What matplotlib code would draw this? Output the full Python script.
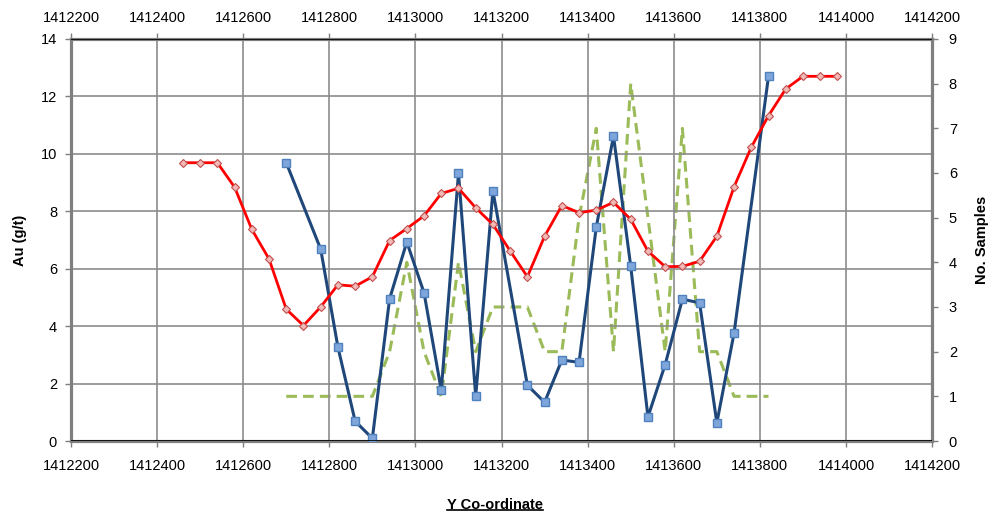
import numpy as np
import matplotlib
matplotlib.use("Agg")
import matplotlib.pyplot as plt
from matplotlib.lines import Line2D
from matplotlib.ticker import FormatStrFormatter

plt.rcParams['font.family'] = ['Liberation Sans', 'DejaVu Sans']

# red series (smoothed Au), every 40 m
red_x = np.arange(1412460, 1413981, 40)
red_au = [9.69, 9.69, 9.69, 8.84, 7.37, 6.34, 4.59, 4.02, 4.67, 5.44,
          5.39, 5.72, 6.98, 7.40, 7.84, 8.62, 8.80, 8.12, 7.54, 6.62,
          5.72, 7.13, 8.20, 7.95, 8.04, 8.31, 7.72, 6.61, 6.07, 6.08,
          6.26, 7.13, 8.85, 10.23, 11.33, 12.26, 12.70, 12.70, 12.70]

# blue series (Au grade) and sample counts
blue_x = [1412700, 1412780, 1412820, 1412860, 1412900, 1412940, 1412980,
          1413020, 1413060, 1413100, 1413140, 1413180, 1413260, 1413300,
          1413340, 1413380, 1413420, 1413460, 1413500, 1413540, 1413580,
          1413620, 1413660, 1413700, 1413740, 1413820]
blue_au = [9.69, 6.68, 3.27, 0.69, 0.09, 4.95, 6.93, 5.16, 1.77, 9.32,
           1.56, 8.71, 1.94, 1.35, 2.82, 2.74, 7.45, 10.62, 6.09, 0.84,
           2.66, 4.94, 4.81, 0.63, 3.76, 12.70]
samples = [1, 1, 1, 1, 1, 2, 4, 2, 1, 4, 2, 3, 3, 2, 2, 5, 7, 2, 8, 5,
           2, 7, 2, 2, 1, 1]

fig = plt.figure(figsize=(9.91, 5.17), dpi=100)
ax = fig.add_axes([0.0716, 0.147, 0.869, 0.7776])
ax2 = ax.twinx()
ax3 = ax.twiny()

grid_c = '#8c8c8c'
xticks = np.arange(1412200, 1414201, 200)
ax.set_xlim(1412200, 1414200)
ax.set_ylim(0, 14)
ax.set_xticks(xticks)
ax.set_yticks(np.arange(0, 15, 2))
ax.grid(True, color=grid_c, lw=1.2)
ax.set_axisbelow(True)

ax2.set_ylim(0, 9)
ax2.set_yticks(range(0, 10))
ax3.set_xlim(1412200, 1414200)
ax3.set_xticks(xticks)
for a in (ax, ax3):
    a.xaxis.set_major_formatter(FormatStrFormatter('%d'))

ax2.plot(blue_x, samples, color='#9bbb59', lw=2.2, ls=(0, (3.5, 2)), zorder=2)
ax.plot(blue_x, blue_au, color='#1f477a', lw=2.2, marker='s', ms=6,
        mfc='#7ea6db', mec='#4f81bd', mew=1, zorder=3)
ax.plot(red_x, red_au, color='#ff0000', lw=2.0, marker='D', ms=4.2,
        mfc='#f2b9b7', mec='#c0504d', mew=0.8, zorder=4)
ax.set_zorder(ax2.get_zorder() + 1)
ax.patch.set_visible(False)

for a in (ax, ax2, ax3):
    for s in a.spines.values():
        s.set_color('#7f7f7f')
        s.set_linewidth(2.2)
    a.tick_params(colors='#7f7f7f', labelcolor='black', labelsize=10.5,
                  length=4, width=1)
ax.axhline(0, color='black', lw=1.2, zorder=5)
ax.axhline(14, color='black', lw=1.2, zorder=5)
ax.tick_params(axis='x', pad=9)
ax.tick_params(axis='y', pad=6)
ax2.tick_params(axis='y', pad=8)
ax3.tick_params(axis='x', pad=6)

ax.set_ylabel('Au (g/t)', fontsize=10.5, fontweight='bold', labelpad=10)
ax2.set_ylabel('No. Samples', fontsize=10.5, fontweight='bold', labelpad=13)

t = fig.text(0.4995, 0.01, 'Y Co-ordinate', fontsize=10.5,
             fontweight='bold', ha='center', va='bottom')
fig.canvas.draw()
bb = t.get_window_extent().transformed(fig.transFigure.inverted())
fig.add_artist(Line2D([bb.x0, bb.x1], [bb.y0 + 0.004, bb.y0 + 0.004],
                      transform=fig.transFigure, color='black', lw=1.2))

fig.savefig('out.png', dpi=100)
